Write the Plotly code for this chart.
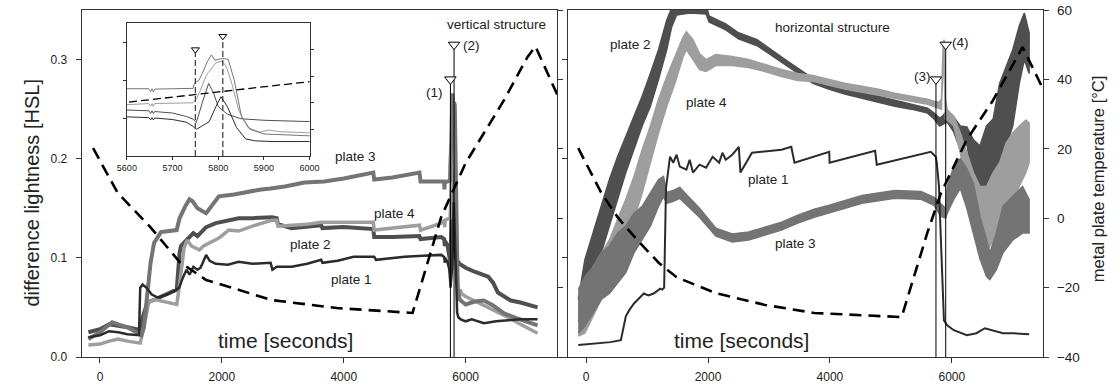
import plotly.graph_objects as go

# ---------------- data: left panel ("vertical structure") ----------------
L1_t = [-190, 0, 150, 300, 450, 600, 640, 660, 700, 760, 850, 950, 1100, 1260, 1300, 1360, 1420, 1470, 1532, 1600, 1650, 1742, 1800, 1900, 2100, 2274, 2500, 2800, 2830, 2900, 3145, 3400, 3629, 3650, 3900, 4161, 4500, 4530, 4800, 5000, 5300, 5600, 5648, 5652, 5655, 5658, 5661, 5700, 5730, 5745, 5752, 5765, 5780, 5795, 5806, 5820, 5840, 5860, 5880, 5920, 6000, 6100, 6300, 6500, 6700, 6900, 7180]
L1_v = [0.020, 0.022, 0.026, 0.025, 0.023, 0.022, 0.022, 0.070, 0.073, 0.070, 0.063, 0.060, 0.063, 0.068, 0.070, 0.080, 0.088, 0.083, 0.091, 0.088, 0.090, 0.103, 0.097, 0.094, 0.093, 0.096, 0.094, 0.095, 0.088, 0.091, 0.091, 0.094, 0.098, 0.095, 0.097, 0.101, 0.101, 0.098, 0.100, 0.101, 0.102, 0.103, 0.101, 0.095, 0.101, 0.095, 0.100, 0.096, 0.089, 0.078, 0.070, 0.080, 0.090, 0.130, 0.156, 0.130, 0.075, 0.045, 0.040, 0.038, 0.036, 0.038, 0.034, 0.036, 0.037, 0.038, 0.038]

L2_t = [-190, 0, 150, 300, 450, 600, 650, 700, 780, 900, 1100, 1260, 1306, 1330, 1420, 1532, 1600, 1742, 1900, 2100, 2274, 2500, 2823, 2900, 2920, 3145, 3400, 3629, 3650, 4000, 4484, 4500, 4800, 5240, 5260, 5600, 5648, 5652, 5655, 5658, 5661, 5700, 5730, 5745, 5752, 5765, 5779, 5790, 5800, 5820, 5850, 5900, 6000, 6145, 6370, 6450, 6530, 6740, 6900, 7000, 7180]
L2_v = [0.025, 0.028, 0.033, 0.032, 0.030, 0.028, 0.028, 0.040, 0.055, 0.058, 0.063, 0.068, 0.105, 0.112, 0.118, 0.125, 0.122, 0.131, 0.135, 0.138, 0.140, 0.140, 0.141, 0.140, 0.134, 0.130, 0.132, 0.133, 0.130, 0.131, 0.129, 0.121, 0.121, 0.122, 0.119, 0.121, 0.119, 0.112, 0.119, 0.112, 0.117, 0.113, 0.104, 0.097, 0.088, 0.140, 0.191, 0.165, 0.130, 0.110, 0.098, 0.094, 0.090, 0.086, 0.081, 0.075, 0.065, 0.057, 0.055, 0.053, 0.050]

L3_t = [-190, 0, 100, 200, 300, 450, 600, 680, 720, 774, 830, 887, 952, 1000, 1258, 1306, 1400, 1468, 1520, 1600, 1742, 1800, 1951, 2200, 2500, 2645, 2800, 3032, 3355, 3677, 4000, 4484, 4500, 4800, 5242, 5260, 5600, 5648, 5652, 5655, 5658, 5661, 5700, 5745, 5748, 5758, 5765, 5776, 5785, 5793, 5810, 5822, 5835, 5851, 5870, 5900, 6000, 6150, 6300, 6450, 6630, 6800, 7000, 7180]
L3_v = [0.018, 0.025, 0.030, 0.035, 0.033, 0.030, 0.025, 0.022, 0.030, 0.060, 0.095, 0.115, 0.122, 0.126, 0.128, 0.140, 0.152, 0.159, 0.157, 0.150, 0.145, 0.150, 0.162, 0.164, 0.168, 0.169, 0.170, 0.172, 0.176, 0.177, 0.180, 0.186, 0.179, 0.181, 0.186, 0.177, 0.177, 0.177, 0.169, 0.177, 0.169, 0.176, 0.177, 0.178, 0.191, 0.200, 0.217, 0.248, 0.266, 0.252, 0.257, 0.254, 0.200, 0.103, 0.070, 0.058, 0.053, 0.056, 0.057, 0.052, 0.044, 0.040, 0.036, 0.032]

L4_t = [-190, 0, 150, 300, 450, 600, 660, 720, 800, 900, 1100, 1260, 1300, 1380, 1430, 1500, 1629, 1700, 1951, 2113, 2274, 2500, 2823, 2900, 2920, 3145, 3400, 3629, 4000, 4484, 4500, 4800, 5242, 5260, 5600, 5648, 5652, 5655, 5658, 5661, 5700, 5745, 5752, 5760, 5775, 5795, 5808, 5818, 5830, 5845, 5865, 5890, 5912, 5935, 6000, 6100, 6300, 6500, 6700, 6900, 7180]
L4_v = [0.012, 0.013, 0.016, 0.018, 0.016, 0.015, 0.014, 0.030, 0.055, 0.058, 0.055, 0.053, 0.070, 0.110, 0.118, 0.112, 0.108, 0.112, 0.120, 0.128, 0.127, 0.132, 0.138, 0.138, 0.132, 0.133, 0.134, 0.136, 0.136, 0.136, 0.128, 0.130, 0.133, 0.128, 0.135, 0.138, 0.131, 0.138, 0.131, 0.138, 0.139, 0.140, 0.150, 0.170, 0.215, 0.245, 0.250, 0.235, 0.190, 0.120, 0.075, 0.063, 0.068, 0.064, 0.061, 0.058, 0.052, 0.046, 0.040, 0.033, 0.024]

# metal plate temperature [°C], left panel
LT_t = [-113, 290, 823, 1306, 1742, 2823, 3887, 4645, 5129, 5600, 6000, 6629, 7016, 7145, 7500, 7700]
LT_v = [20.2, 7.3, -2.5, -12.6, -17.8, -23.6, -25.9, -26.7, -27.3, 0.4, 15.9, 34.0, 46.5, 49.5, 36.0, 28.0]

# ---------------- data: right panel ("horizontal structure") ----------------
R1_t = [-129, 100, 400, 570, 620, 651, 705, 785, 850, 946, 1020, 1108, 1215, 1250, 1280, 1310, 1376, 1430, 1484, 1537, 1645, 1699, 1753, 1860, 1968, 2075, 2183, 2237, 2290, 2398, 2505, 2532, 2721, 2935, 3205, 3366, 3419, 3989, 3995, 4742, 4769, 5656, 5737, 5753, 5790, 5817, 5844, 5871, 5925, 6032, 6247, 6403, 6543, 6650, 6839, 7000, 7269]
R1_v = [0.012, 0.013, 0.015, 0.017, 0.030, 0.041, 0.047, 0.054, 0.058, 0.064, 0.062, 0.064, 0.069, 0.068, 0.070, 0.170, 0.202, 0.196, 0.204, 0.192, 0.189, 0.199, 0.186, 0.194, 0.191, 0.202, 0.196, 0.206, 0.199, 0.204, 0.212, 0.186, 0.206, 0.207, 0.209, 0.212, 0.196, 0.207, 0.196, 0.208, 0.194, 0.207, 0.202, 0.196, 0.172, 0.125, 0.074, 0.037, 0.032, 0.027, 0.022, 0.024, 0.029, 0.027, 0.024, 0.024, 0.023]

R2_t = [-129, -21, 113, 247, 382, 516, 651, 785, 919, 1054, 1188, 1323, 1403, 1484, 1700, 1968, 2016, 2290, 2500, 2806, 3290, 3720, 3989, 4258, 4527, 4796, 5065, 5334, 5602, 5710, 5760, 5800, 5850, 5925, 6032, 6140, 6247, 6355, 6462, 6570, 6678, 6785, 6893, 7000, 7108, 7190, 7269]
R2_hi = [0.058, 0.098, 0.125, 0.152, 0.179, 0.202, 0.222, 0.243, 0.263, 0.286, 0.310, 0.340, 0.352, 0.356, 0.356, 0.356, 0.344, 0.336, 0.327, 0.320, 0.299, 0.281, 0.276, 0.272, 0.267, 0.263, 0.259, 0.255, 0.251, 0.246, 0.243, 0.241, 0.243, 0.249, 0.242, 0.233, 0.232, 0.219, 0.213, 0.233, 0.240, 0.276, 0.293, 0.310, 0.334, 0.347, 0.327]
R2_lo = [0.036, 0.058, 0.078, 0.105, 0.132, 0.159, 0.186, 0.209, 0.233, 0.253, 0.280, 0.310, 0.333, 0.345, 0.347, 0.346, 0.338, 0.330, 0.321, 0.314, 0.294, 0.276, 0.270, 0.265, 0.261, 0.257, 0.253, 0.250, 0.246, 0.240, 0.236, 0.233, 0.235, 0.237, 0.227, 0.209, 0.215, 0.172, 0.169, 0.172, 0.175, 0.192, 0.213, 0.233, 0.276, 0.300, 0.286]

R3_t = [-129, -21, 113, 247, 382, 516, 651, 785, 919, 1054, 1188, 1269, 1323, 1430, 1537, 1645, 1860, 2129, 2398, 2666, 2935, 3205, 3473, 3742, 3989, 4527, 5065, 5495, 5710, 5817, 5898, 5925, 6032, 6140, 6247, 6355, 6462, 6570, 6624, 6731, 6839, 7000, 7161, 7269]
R3_hi = [0.068, 0.081, 0.091, 0.105, 0.112, 0.125, 0.132, 0.145, 0.152, 0.165, 0.179, 0.182, 0.166, 0.168, 0.171, 0.164, 0.150, 0.130, 0.124, 0.126, 0.131, 0.136, 0.143, 0.149, 0.153, 0.163, 0.168, 0.167, 0.161, 0.155, 0.150, 0.172, 0.192, 0.200, 0.190, 0.175, 0.142, 0.118, 0.105, 0.125, 0.152, 0.162, 0.172, 0.159]
R3_lo = [0.024, 0.031, 0.044, 0.058, 0.064, 0.075, 0.085, 0.105, 0.118, 0.132, 0.152, 0.162, 0.155, 0.157, 0.160, 0.154, 0.141, 0.122, 0.116, 0.118, 0.123, 0.128, 0.135, 0.141, 0.145, 0.155, 0.160, 0.159, 0.153, 0.142, 0.140, 0.145, 0.159, 0.170, 0.150, 0.125, 0.099, 0.081, 0.078, 0.088, 0.105, 0.118, 0.125, 0.125]

R4_t = [-129, -21, 113, 247, 382, 516, 651, 785, 919, 1054, 1188, 1323, 1457, 1592, 1645, 1753, 1860, 1968, 2129, 2398, 2666, 2935, 3205, 3473, 3720, 3989, 4258, 4527, 4796, 5065, 5334, 5602, 5710, 5790, 5830, 5860, 5875, 5895, 5925, 6032, 6140, 6247, 6355, 6462, 6570, 6678, 6785, 6893, 7000, 7108, 7215, 7269]
R4_hi = [0.041, 0.068, 0.091, 0.105, 0.118, 0.139, 0.159, 0.182, 0.209, 0.233, 0.260, 0.283, 0.303, 0.323, 0.328, 0.320, 0.306, 0.300, 0.305, 0.303, 0.300, 0.295, 0.290, 0.286, 0.284, 0.280, 0.276, 0.273, 0.270, 0.266, 0.263, 0.260, 0.258, 0.257, 0.260, 0.318, 0.320, 0.260, 0.249, 0.243, 0.226, 0.206, 0.186, 0.172, 0.172, 0.186, 0.196, 0.216, 0.226, 0.233, 0.239, 0.236]
R4_lo = [0.021, 0.024, 0.041, 0.058, 0.075, 0.091, 0.112, 0.139, 0.165, 0.196, 0.226, 0.253, 0.276, 0.303, 0.310, 0.300, 0.290, 0.288, 0.294, 0.294, 0.292, 0.288, 0.283, 0.279, 0.278, 0.274, 0.270, 0.267, 0.264, 0.261, 0.258, 0.255, 0.253, 0.251, 0.250, 0.300, 0.290, 0.240, 0.239, 0.233, 0.206, 0.172, 0.132, 0.112, 0.105, 0.118, 0.125, 0.145, 0.159, 0.172, 0.186, 0.196]

RT_t = [-129, 242, 516, 839, 1194, 1484, 2129, 2935, 3742, 4500, 5177, 5597, 5823, 6242, 6677, 7161, 7532]
RT_v = [20.2, 7.5, 0.3, -6.3, -12.9, -17.0, -21.6, -25.0, -27.3, -28.0, -28.5, -4.3, 7.3, 22.5, 34.0, 49.3, 36.0]

# event markers (1)-(4)
LM_t = [5750, 5810]
LM_v = [0.28, 0.315]
LM_lab = ["(1)", "(2)"]
RM_t = [5740, 5900]
RM_v = [0.28, 0.315]
RM_lab = ["(3)", "(4)"]

X_TICKS = [0, 2000, 4000, 6000]
Y_TICKS = [0.0, 0.1, 0.2, 0.3]
T_TICKS = [-40, -20, 0, 20, 40, 60]
INSET_X_TICKS = [5600, 5700, 5800, 5900, 6000]

C1, C2, C3, C4 = "#2b2b2b", "#4f4f4f", "#747474", "#9e9e9e"
FONT = "Liberation Sans, Arial, sans-serif"
W, H = 1120, 387
ML, MR, MT, MB = 0, 0, 10, 30
PH = H - MT - MB

def px_x(p):
    return p / W

def px_y(p):
    return (H - MB - p) / PH

fig = go.Figure()

def line(t, v, color, width, xa, ya, dash=None):
    fig.add_trace(go.Scatter(x=t, y=v, mode="lines", xaxis=xa, yaxis=ya,
                             line=dict(color=color, width=width, dash=dash),
                             hoverinfo="skip", showlegend=False))

def band(t, lo, hi, color, xa, ya):
    fig.add_trace(go.Scatter(x=list(t) + list(t)[::-1], y=list(hi) + list(lo)[::-1],
                             mode="lines", fill="toself", fillcolor=color,
                             line=dict(color=color, width=1.5), xaxis=xa, yaxis=ya,
                             hoverinfo="skip", showlegend=False))

# left panel
line(L2_t, L2_v, C2, 4, "x", "y")
line(L4_t, L4_v, C4, 3.5, "x", "y")
line(L3_t, L3_v, C3, 4, "x", "y")
line(L1_t, L1_v, C1, 2.5, "x", "y")
line(LT_t, LT_v, "black", 2.6, "x", "y2", dash="12px,7px")

# right panel
band(R2_t, R2_lo, R2_hi, C2, "x2", "y3")
band(R4_t, R4_lo, R4_hi, C4, "x2", "y3")
band(R3_t, R3_lo, R3_hi, C3, "x2", "y3")
line(R1_t, R1_v, C1, 2, "x2", "y3")
line(RT_t, RT_v, "black", 2.6, "x2", "y4", dash="12px,7px")

# event markers
for mt, mv, xa, ya in [(LM_t, LM_v, "x", "y"), (RM_t, RM_v, "x2", "y3")]:
    for t, v in zip(mt, mv):
        line([t, t], [0, v], "black", 1, xa, ya)
    fig.add_trace(go.Scatter(x=mt, y=mv, mode="markers", xaxis=xa, yaxis=ya,
                             marker=dict(symbol="triangle-down", size=10, color="white",
                                         line=dict(color="black", width=1)),
                             hoverinfo="skip", showlegend=False))

# inset (zoom of the left panel)
line(L2_t, L2_v, C2, 1, "x3", "y5")
line(L4_t, L4_v, C4, 1, "x3", "y5")
line(L3_t, L3_v, C3, 1, "x3", "y5")
line(L1_t, L1_v, C1, 1, "x3", "y5")
line(LT_t, LT_v, "black", 1.3, "x3", "y6", dash="8px,4px")
for t, v in zip(LM_t, LM_v):
    line([t, t], [0, v], "#444", 1.3, "x3", "y5", dash="6px,3px")
fig.add_trace(go.Scatter(x=LM_t, y=LM_v, mode="markers", xaxis="x3", yaxis="y5",
                         marker=dict(symbol="triangle-down", size=7, color="white",
                                     line=dict(color="black", width=1)),
                         hoverinfo="skip", showlegend=False))

axcol = "#333333"
base = dict(showgrid=False, zeroline=False, showline=True, linecolor=axcol, linewidth=1,
            ticks="outside", tickcolor=axcol, ticklen=5, tickwidth=1,
            tickfont=dict(family=FONT, size=12, color="#222"))

lx0, lx1 = px_x(73), px_x(557)
rx0, rx1 = px_x(568), px_x(1052)
fig.update_layout(
    width=W, height=H, margin=dict(l=ML, r=MR, t=MT, b=MB),
    paper_bgcolor="white", plot_bgcolor="white", showlegend=False,
    font=dict(family=FONT, color="#222"),
    xaxis=dict(base, domain=[lx0, lx1], range=[-300, 7500], anchor="y", tickvals=X_TICKS,
               mirror=True, ticklabelstandoff=4),
    yaxis=dict(base, domain=[0, 1], range=[0, 0.35], anchor="x", tickvals=Y_TICKS,
               tickformat=".1f", ticklabelstandoff=6),
    yaxis2=dict(base, overlaying="y", side="right", anchor="x", range=[-40, 60],
                tickvals=T_TICKS, showticklabels=False),
    xaxis2=dict(base, domain=[rx0, rx1], range=[-300, 7500], anchor="y3", tickvals=X_TICKS,
                mirror=True, ticklabelstandoff=4),
    yaxis3=dict(base, domain=[0, 1], range=[0, 0.35], anchor="x2", tickvals=Y_TICKS, showticklabels=False),
    yaxis4=dict(base, overlaying="y3", side="right", anchor="x2", range=[-40, 60], tickvals=T_TICKS,
                ticklabelstandoff=5, tickfont=dict(family=FONT, size=13.5, color="#222")),
    xaxis3=dict(base, domain=[px_x(119), px_x(305)], range=[5600, 6000], anchor="y5",
                tickvals=INSET_X_TICKS, mirror=True, ticklen=3,
                tickfont=dict(family=FONT, size=9, color="#222")),
    yaxis5=dict(base, domain=[px_y(156), px_y(23)], range=[0, 0.35], anchor="x3",
                tickvals=[0.1, 0.2, 0.3], showticklabels=False, ticklen=3),
    yaxis6=dict(base, overlaying="y5", side="right", anchor="x3", range=[-40, 60],
                tickvals=[-20, 0, 20, 40], showticklabels=False, ticklen=3),
)

ann = []
def txt(s, x, y, xref, yref, size, angle=0):
    ann.append(dict(text=s, x=x, y=y, xref=xref, yref=yref, showarrow=False,
                    font=dict(family=FONT, size=size, color="#222"), textangle=angle,
                    xanchor="center", yanchor="middle"))

txt("difference lightness [HSL]", px_x(22), px_y(193), "paper", "paper", 20, -90)
txt("metal plate temperature [°C]", px_x(1108), px_y(179), "paper", "paper", 16.5, -90)
txt("time [seconds]", 3048, 0.017, "x", "y", 21)
txt("time [seconds]", 2548, 0.017, "x2", "y3", 21)
txt("vertical structure", 6500, 0.335, "x", "y", 13.5)
txt("horizontal structure", 4048, 0.332, "x2", "y3", 13.5)
txt("plate 3", 4194, 0.202, "x", "y", 13.5)
txt("plate 4", 4830, 0.145, "x", "y", 13.5)
txt("plate 2", 3452, 0.113, "x", "y", 13.5)
txt("plate 1", 4129, 0.078, "x", "y", 13.5)
txt("plate 2", 726, 0.315, "x2", "y3", 13.5)
txt("plate 4", 1968, 0.257, "x2", "y3", 13.5)
txt("plate 1", 3000, 0.179, "x2", "y3", 13.5)
txt("plate 3", 3435, 0.114, "x2", "y3", 13.5)
txt(LM_lab[0], 5484, 0.267, "x", "y", 13.5)
txt(LM_lab[1], 6097, 0.314, "x", "y", 13.5)
txt(RM_lab[0], 5516, 0.283, "x2", "y3", 13.5)
txt(RM_lab[1], 6145, 0.317, "x2", "y3", 13.5)
fig.update_layout(annotations=ann)

fig.write_html("out.html")
